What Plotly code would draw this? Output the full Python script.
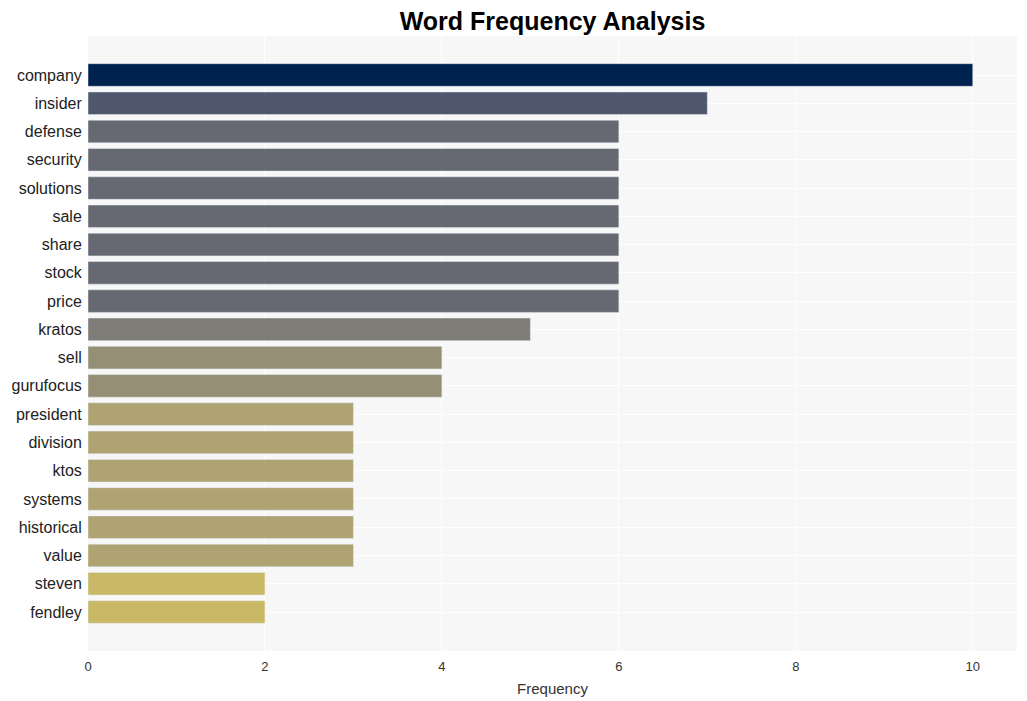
import plotly.graph_objects as go

words = ["company", "insider", "defense", "security", "solutions", "sale", "share",
         "stock", "price", "kratos", "sell", "gurufocus", "president", "division",
         "ktos", "systems", "historical", "value", "steven", "fendley"]
freqs = [10, 7, 6, 6, 6, 6, 6, 6, 6, 5, 4, 4, 3, 3, 3, 3, 3, 3, 2, 2]

fig = go.Figure(go.Bar(
    x=freqs, y=words, orientation="h",
    marker=dict(color=freqs, colorscale="Cividis", reversescale=True, cmin=0, cmax=10),
    width=0.8,
))

fig.update_layout(
    width=1019, height=693,
    margin=dict(l=80, r=10, t=28, b=50),
    title=dict(text="<b>Word Frequency Analysis</b>", x=0.5, xref="paper", xanchor="center",
               y=1 - 13 / 693, yref="container", yanchor="middle",
               font=dict(family="Liberation Sans, Arial, sans-serif", size=25, color="black")),
    paper_bgcolor="white", plot_bgcolor="#f7f7f7",
    font=dict(family="Liberation Sans, Arial, sans-serif", color="#333333"),
    xaxis=dict(title=dict(text="Frequency", font=dict(size=15, color="#333333"), standoff=10),
               color="#333333", showgrid=True, gridcolor="white", automargin=False,
               ticks="outside", ticklen=3, tickcolor="rgba(0,0,0,0)",
               tickfont=dict(size=13, color="#333333"), zeroline=False, range=[0, 10.5], dtick=2),
    yaxis=dict(autorange=False, range=[len(words) - 1 + 1.38, -1.38], showgrid=True, gridcolor="white",
               automargin=False, ticks="outside", ticklen=2, tickcolor="rgba(0,0,0,0)",
               tickfont=dict(size=16, color="#222222"), categoryorder="array", categoryarray=words),
    showlegend=False,
)

fig.write_html("out.html")
